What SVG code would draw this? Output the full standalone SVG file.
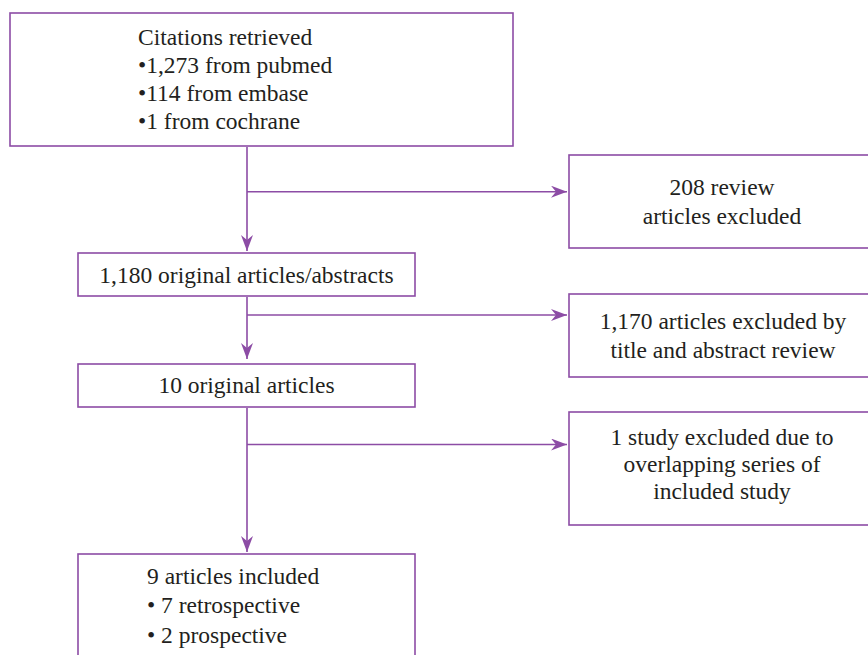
<svg xmlns="http://www.w3.org/2000/svg" width="868" height="655" viewBox="0 0 868 655">
<style>
.box{fill:#ffffff;stroke:#8c4ca5;stroke-width:1.6}
.ln{fill:none;stroke:#8c4ca5;stroke-width:1.6}
text{font-family:"Liberation Serif","Times New Roman",serif;font-size:23.5px;fill:#231f20}
.c{text-anchor:middle}
</style>
<defs>
<marker id="ah" viewBox="-16 -6 16 12" refX="0" refY="0" markerWidth="16" markerHeight="12" markerUnits="userSpaceOnUse" orient="auto">
<path d="M0,0 L-16,-6 L-11,0 L-16,6 Z" fill="#8c4ca5"/>
</marker>
</defs>
<rect width="868" height="655" fill="#ffffff"/>
<g id="connectors">
<path class="ln" d="M247,147 V251" marker-end="url(#ah)"/>
<path class="ln" d="M247,191.7 H567" marker-end="url(#ah)"/>
<path class="ln" d="M247,297 V359" marker-end="url(#ah)"/>
<path class="ln" d="M247,315 H567" marker-end="url(#ah)"/>
<path class="ln" d="M247,408 V552" marker-end="url(#ah)"/>
<path class="ln" d="M247,444.5 H567" marker-end="url(#ah)"/>
</g>
<g id="citations">
<rect class="box" x="10" y="13" width="503" height="133"/>
<text x="138" y="45">Citations retrieved</text>
<text x="138" y="73">•1,273 from pubmed</text>
<text x="138" y="101">•114 from embase</text>
<text x="138" y="129">•1 from cochrane</text>
</g>
<g id="review-excluded">
<rect class="box" x="569" y="155" width="310" height="93"/>
<text class="c" x="722" y="195">208 review</text>
<text class="c" x="722" y="224">articles excluded</text>
</g>
<g id="original-abstracts">
<rect class="box" x="78" y="253" width="337" height="43"/>
<text class="c" x="246.5" y="283">1,180 original articles/abstracts</text>
</g>
<g id="title-excluded">
<rect class="box" x="569" y="294" width="310" height="83"/>
<text class="c" x="723" y="329">1,170 articles excluded by</text>
<text class="c" x="723" y="358">title and abstract review</text>
</g>
<g id="original-articles">
<rect class="box" x="78" y="364" width="337" height="43"/>
<text class="c" x="246.5" y="393">10 original articles</text>
</g>
<g id="overlap-excluded">
<rect class="box" x="569" y="412" width="310" height="113"/>
<text class="c" x="722" y="445">1 study excluded due to</text>
<text class="c" x="722" y="472">overlapping series of</text>
<text class="c" x="722" y="499">included study</text>
</g>
<g id="included">
<rect class="box" x="78" y="554" width="337" height="110"/>
<text x="147" y="584">9 articles included</text>
<text x="147" y="613">• 7 retrospective</text>
<text x="147" y="643">• 2 prospective</text>
</g>
</svg>
